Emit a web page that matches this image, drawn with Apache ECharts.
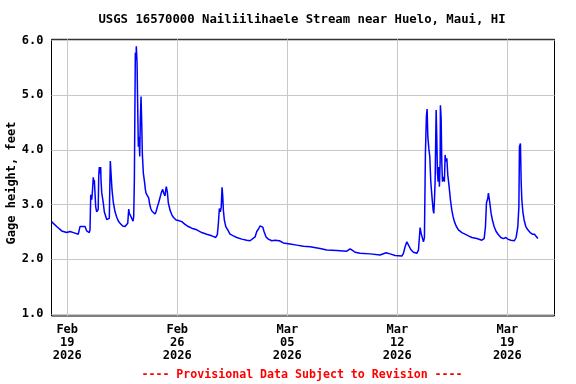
<!DOCTYPE html>
<html>
<head>
<meta charset="utf-8">
<script src="https://cdn.jsdelivr.net/npm/echarts@6/dist/echarts.min.js"></script>
<style>
html,body{margin:0;padding:0;background:#fff;}
#chart{width:576px;height:384px;}
</style>
</head>
<body>
<div id="chart"></div>
<script>
// ---- data ----
const titleText = 'USGS 16570000 Nailiilihaele Stream near Huelo, Maui, HI';
const yAxisTitle = 'Gage height, feet';
const footerText = '---- Provisional Data Subject to Revision ----';
const startUTC = Date.UTC(2026, 1, 18, 0, 0);   // Feb 18 2026 00:00
const endUTC = Date.UTC(2026, 2, 22, 0, 0);     // Mar 22 2026 00:00
const xTickDates = [Date.UTC(2026,1,19), Date.UTC(2026,1,26), Date.UTC(2026,2,5), Date.UTC(2026,2,12), Date.UTC(2026,2,19)];
const monthNames = ['Jan','Feb','Mar','Apr','May','Jun','Jul','Aug','Sep','Oct','Nov','Dec'];
const yTicks = [1, 2, 3, 4, 5, 6];
// hours since Feb 18 2026 00:00
const hours = [
0, 7.9, 15.6, 23.2, 28.3, 35.9, 40.9, 43.5, 51.2, 53.8,
57.7, 58.8, 59.9, 61.4, 62.3, 63.8, 64.9, 65.4, 67.5, 69.0,
70.6, 71.3, 72.1, 73.0, 74.1, 75.1, 75.6, 76.7, 79.1, 80.6,
84.3, 86.8, 88.3, 88.9, 89.8, 90.9, 92.4, 94.4, 97.0, 99.6,
102.0, 104.6, 108.7, 112.3, 114.9, 116.4, 117.9, 118.8, 120.4, 121.4,
122.9, 124.5, 125.5, 126.5, 128.0, 129.1, 129.5, 130.6, 131.7, 132.6,
133.6, 134.7, 135.6, 136.7, 137.8, 138.7, 140.2, 142.3, 143.3, 144.3,
145.4, 146.9, 148.5, 149.4, 151.5, 153.5, 155.5, 158.1, 159.6, 161.6,
163.7, 165.7, 167.7, 169.8, 171.4, 172.3, 173.3, 174.4, 175.3, 176.9,
178.4, 181.0, 183.6, 186.0, 190.2, 193.7, 198.9, 203.9, 208.9, 214.1,
221.8, 229.4, 237.0, 244.7, 250.8, 253.2, 254.8, 256.3, 257.8, 259.2,
260.4, 261.5, 262.4, 263.9, 266.1, 269.1, 272.6, 277.7, 282.9, 290.5,
298.1, 303.2, 310.8, 313.4, 315.8, 318.4, 320.4, 322.6, 324.5, 327.6,
331.1, 336.3, 341.4, 343.9, 347.9, 354.0, 364.3, 374.5, 384.6, 394.8,
410.1, 420.3, 435.6, 450.9, 455.9, 459.0, 463.5, 471.2, 486.4, 501.7,
510.9, 517.0, 524.6, 534.9, 537.3, 539.9, 542.5, 545.0, 548.6, 552.6,
557.8, 560.3, 562.8, 564.3, 565.9, 567.9, 569.4, 570.9, 572.4, 573.5,
574.6, 576.1, 577.6, 579.1, 581.1, 582.7, 583.7, 584.6, 585.7, 587.3,
588.3, 589.2, 590.3, 591.4, 592.3, 593.4, 593.8, 594.9, 595.9, 596.9,
598.4, 599.9, 601.0, 602.0, 603.6, 605.1, 607.1, 609.1, 611.2, 613.2,
615.2, 617.8, 621.3, 626.5, 631.5, 636.6, 641.8, 649.4, 657.0, 660.6,
662.6, 664.1, 666.2, 667.1, 668.2, 669.7, 671.2, 673.2, 675.8, 678.9,
682.4, 686.1, 690.0, 693.7, 696.8, 701.3, 706.8, 709.4, 712.0, 713.6,
714.5, 716.0, 717.1, 718.1, 719.7, 721.6, 724.2, 727.3, 730.8, 734.3,
737.4, 739.5, 742.6
];
// gage height, feet
const heights = [
2.69, 2.60, 2.52, 2.49, 2.51, 2.48, 2.46, 2.60, 2.60, 2.52,
2.49, 2.54, 3.18, 3.09, 3.21, 3.50, 3.39, 3.45, 2.96, 2.87,
2.84, 2.91, 3.51, 3.69, 3.57, 3.69, 3.45, 3.22, 3.03, 2.87,
2.73, 2.70, 2.75, 3.23, 3.80, 3.57, 3.27, 3.04, 2.87, 2.77,
2.70, 2.66, 2.61, 2.60, 2.57, 2.66, 2.92, 2.84, 2.84, 2.78,
2.74, 2.70, 2.78, 3.43, 5.78, 5.65, 5.90, 5.59, 4.73, 4.06,
4.24, 3.88, 4.52, 4.98, 4.47, 3.93, 3.58, 3.39, 3.28, 3.21,
3.24, 3.22, 3.12, 3.04, 2.93, 2.88, 2.85, 2.83, 2.87, 2.96,
3.04, 3.07, 3.22, 3.28, 3.21, 3.24, 3.16, 3.27, 3.33, 3.23,
3.03, 2.90, 2.82, 2.77, 2.72, 2.71, 2.69, 2.64, 2.60, 2.57,
2.54, 2.49, 2.46, 2.43, 2.40, 2.45, 2.66, 2.93, 2.87, 2.96,
3.32, 3.15, 2.90, 2.72, 2.60, 2.54, 2.46, 2.43, 2.40, 2.37,
2.35, 2.34, 2.41, 2.51, 2.55, 2.61, 2.63, 2.59, 2.51, 2.41,
2.37, 2.34, 2.35, 2.38, 2.34, 2.30, 2.28, 2.26, 2.24, 2.23,
2.20, 2.17, 2.16, 2.15, 2.19, 2.17, 2.13, 2.11, 2.10, 2.08,
2.12, 2.10, 2.07, 2.06, 2.11, 2.23, 2.32, 2.30, 2.18, 2.13,
2.11, 2.17, 2.58, 2.48, 2.51, 2.32, 2.40, 3.94, 4.61, 4.75,
4.24, 4.03, 3.88, 3.42, 3.12, 2.90, 2.84, 3.05, 3.42, 4.73,
4.21, 3.60, 3.42, 3.69, 3.33, 3.79, 4.82, 4.58, 3.79, 3.42,
3.51, 3.42, 3.91, 3.79, 3.85, 3.54, 3.33, 3.09, 2.90, 2.78,
2.69, 2.61, 2.54, 2.49, 2.46, 2.43, 2.40, 2.38, 2.35, 2.38,
2.60, 3.03, 3.12, 3.21, 3.18, 2.99, 2.84, 2.72, 2.60, 2.51,
2.45, 2.40, 2.38, 2.40, 2.37, 2.35, 2.34, 2.40, 2.60, 2.96,
4.06, 4.12, 3.42, 3.09, 2.87, 2.72, 2.60, 2.54, 2.49, 2.46,
2.46, 2.43, 2.38
];

// ---- chart ----
const FONT = '"DejaVu Sans Mono", "Liberation Mono", monospace';
const WEEK = 7 * 24 * 3600 * 1000;
const seriesData = hours.map((h, i) => [startUTC + h * 3600 * 1000, heights[i]]);

function fmtDate(v) {
  const d = new Date(v);
  const dd = String(d.getUTCDate()).padStart(2, '0');
  return monthNames[d.getUTCMonth()] + '\n' + dd + '\n' + d.getUTCFullYear();
}

const chart = echarts.init(document.getElementById('chart'), null, {renderer: 'canvas'});
chart.setOption({
  animation: false,
  backgroundColor: '#fff',
  grid: [
    {left: 51.5, top: 39.3, width: 503, height: 276.7, show: true, borderColor: '#000', borderWidth: 1, backgroundColor: 'transparent', containLabel: false},
    {left: 51.5, top: 40.7, width: 503, height: 273.3, show: false, containLabel: false}
  ],
  xAxis: [
    {
      type: 'value', gridIndex: 0, min: startUTC, max: endUTC, interval: WEEK,
      axisLine: {show: false}, axisTick: {show: false, customValues: xTickDates},
      axisLabel: {
        customValues: xTickDates, formatter: fmtDate, margin: 7,
        fontFamily: FONT, fontWeight: 'bold', fontSize: 12, lineHeight: 13, color: '#000'
      },
      splitLine: {show: true, lineStyle: {color: '#c8c8c8', width: 1}}
    },
    {
      type: 'value', gridIndex: 1, min: startUTC, max: endUTC, show: false,
      splitLine: {show: false}
    }
  ],
  yAxis: [
    {type: 'value', gridIndex: 0, min: 0, max: 1, show: false, splitLine: {show: false}},
    {
      type: 'value', gridIndex: 1, min: yTicks[0], max: yTicks[yTicks.length - 1], interval: 1,
      axisLine: {show: false}, axisTick: {show: false},
      axisLabel: {
        margin: 8, formatter: v => v.toFixed(1),
        fontFamily: FONT, fontWeight: 'bold', fontSize: 12, color: '#000'
      },
      splitLine: {show: true, lineStyle: {color: '#c8c8c8', width: 1}}
    }
  ],
  series: [{
    type: 'line', xAxisIndex: 1, yAxisIndex: 1,
    data: seriesData, showSymbol: false, symbol: 'none',
    lineStyle: {color: '#0000ff', width: 1.5},
    z: 5
  }],
  graphic: [
    {type: 'text', x: 302, y: 20, style: {text: titleText, font: 'bold 12.3px ' + FONT, fill: '#000', textAlign: 'center', textVerticalAlign: 'middle'}},
    {type: 'text', x: 12, y: 183, rotation: Math.PI / 2, style: {text: yAxisTitle, font: 'bold 12px ' + FONT, fill: '#000', textAlign: 'center', textVerticalAlign: 'middle'}},
    {type: 'text', x: 302, y: 375, style: {text: footerText, font: 'bold 11.6px ' + FONT, fill: '#ff0000', textAlign: 'center', textVerticalAlign: 'middle'}}
  ]
});
</script>
</body>
</html>
